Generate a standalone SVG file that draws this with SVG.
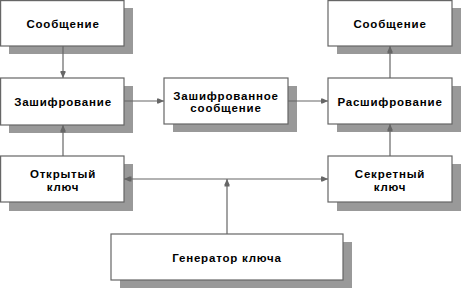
<svg xmlns="http://www.w3.org/2000/svg" width="461" height="289" viewBox="0 0 461 289">
<style>
.sh{fill:#999999}
.bx{fill:#ffffff;stroke:#666666;stroke-width:1.2}
.t{font-family:"Liberation Sans",Arial,sans-serif;font-weight:bold;font-size:11.5px;fill:#000;text-anchor:middle;letter-spacing:0.8px}
.c{fill:none;stroke:#666666;stroke-width:1.2}
</style>
<defs>
<marker id="a" viewBox="0 0 8 8" refX="7.5" refY="4" markerWidth="8" markerHeight="8" markerUnits="userSpaceOnUse" orient="auto-start-reverse">
<path d="M0,1.5 L2,1.5 L7.5,4 L2,6.5 L0,6.5 Z" fill="#666666"/>
</marker>
</defs>
<g id="msg1">
<rect class="sh" x="9" y="8" width="124" height="46"/>
<rect class="bx" x="0.6" y="0.6" width="123.4" height="45.4"/>
<text class="t" x="63" y="28">Сообщение</text>
</g>
<g id="encrypt">
<rect class="sh" x="9" y="86" width="124" height="47"/>
<rect class="bx" x="0.6" y="78" width="123.4" height="47"/>
<text class="t" x="63" y="106">Зашифрование</text>
</g>
<g id="ciphertext">
<rect class="sh" x="173" y="86" width="124" height="46"/>
<rect class="bx" x="164" y="78" width="124" height="46"/>
<text class="t" x="226" y="99.5">Зашифрованное</text>
<text class="t" x="226" y="112">сообщение</text>
</g>
<g id="decrypt">
<rect class="sh" x="337" y="86" width="124" height="46"/>
<rect class="bx" x="328" y="78" width="124" height="46"/>
<text class="t" x="390" y="106">Расшифрование</text>
</g>
<g id="msg2">
<rect class="sh" x="337" y="8" width="124" height="46"/>
<rect class="bx" x="328" y="0.6" width="124" height="45.4"/>
<text class="t" x="390" y="28">Сообщение</text>
</g>
<g id="openkey">
<rect class="sh" x="9" y="164" width="124" height="47"/>
<rect class="bx" x="0.6" y="156" width="123.4" height="46"/>
<text class="t" x="63" y="178">Открытый</text>
<text class="t" x="63" y="191">ключ</text>
</g>
<g id="secretkey">
<rect class="sh" x="337" y="164" width="124" height="47"/>
<rect class="bx" x="328" y="156" width="124" height="46"/>
<text class="t" x="390" y="178">Секретный</text>
<text class="t" x="390" y="191">ключ</text>
</g>
<g id="generator">
<rect class="sh" x="120" y="242" width="232" height="46"/>
<rect class="bx" x="111" y="234" width="232" height="46"/>
<text class="t" x="227" y="262">Генератор ключа</text>
</g>
<g id="connectors">
<line class="c" x1="63" y1="46" x2="63" y2="78" marker-end="url(#a)"/>
<line class="c" x1="63" y1="156" x2="63" y2="125" marker-end="url(#a)"/>
<line class="c" x1="124" y1="101" x2="164" y2="101" marker-end="url(#a)"/>
<line class="c" x1="288" y1="101" x2="328" y2="101" marker-end="url(#a)"/>
<line class="c" x1="390" y1="78" x2="390" y2="46" marker-end="url(#a)"/>
<line class="c" x1="390" y1="156" x2="390" y2="124" marker-end="url(#a)"/>
<line class="c" x1="124" y1="179" x2="328" y2="179" marker-start="url(#a)" marker-end="url(#a)"/>
<line class="c" x1="227" y1="234" x2="227" y2="179" marker-end="url(#a)"/>
</g>
</svg>
